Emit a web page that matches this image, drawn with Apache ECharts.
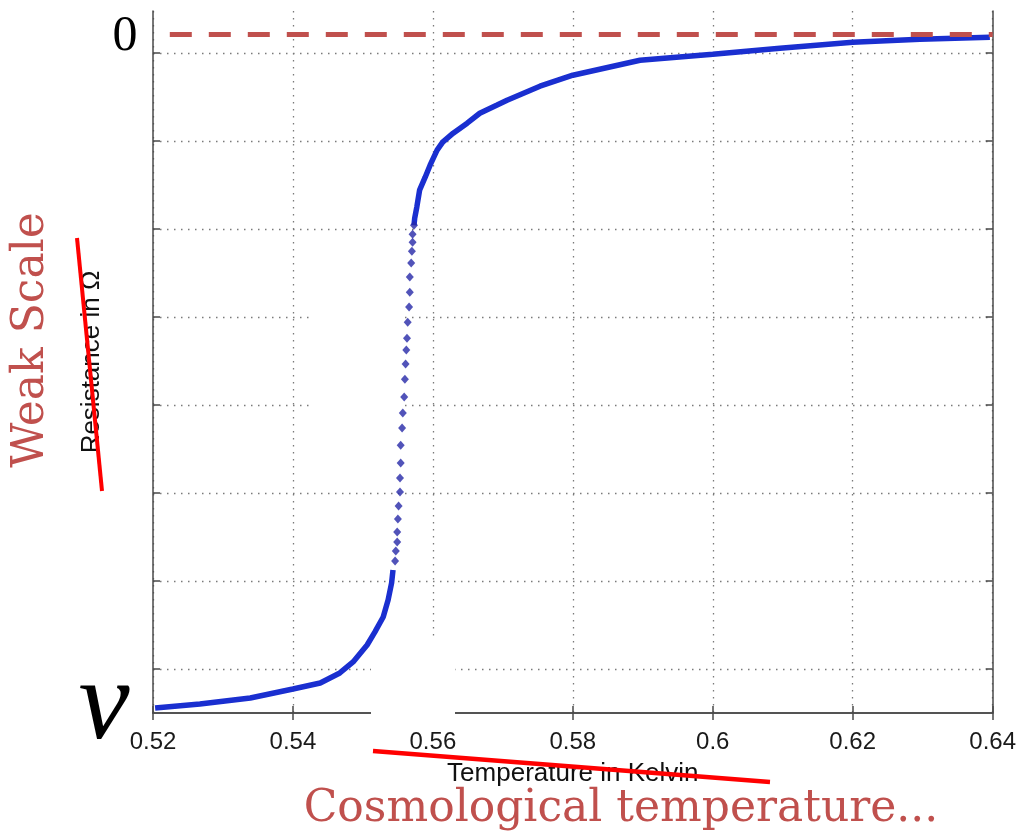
<!DOCTYPE html>
<html>
<head>
<meta charset="utf-8">
<script src="https://cdn.jsdelivr.net/npm/echarts@6/dist/echarts.min.js"></script>
<style>
html, body { margin: 0; padding: 0; background: #fff; }
#chart { width: 1019px; height: 835px; }
</style>
</head>
<body>
<div id="chart"></div>
<script>
// temperature (K) / resistance (grid units)
var lowBranch = [
	[0.5203, 0.057], [0.5267, 0.102], [0.5339, 0.170], [0.5400, 0.273],
	[0.5439, 0.341], [0.5467, 0.455], [0.5486, 0.580], [0.5506, 0.773],
	[0.5517, 0.920], [0.5529, 1.091], [0.5536, 1.284], [0.5541, 1.477],
	[0.5543, 1.625]
];
var transition = [
	[0.5546, 1.727], [0.5547, 1.841], [0.5549, 1.943], [0.5549, 2.057],
	[0.5550, 2.205], [0.5551, 2.352], [0.5553, 2.511], [0.5553, 2.670],
	[0.5554, 2.841], [0.5554, 3.045], [0.5556, 3.239], [0.5557, 3.409],
	[0.5559, 3.591], [0.5560, 3.795], [0.5561, 3.966], [0.5562, 4.125],
	[0.5563, 4.261], [0.5564, 4.443], [0.5566, 4.614], [0.5567, 4.784],
	[0.5567, 4.955], [0.5569, 5.114], [0.5570, 5.250], [0.5571, 5.352],
	[0.5571, 5.443], [0.5573, 5.545]
];
var highBranch = [
	[0.5573, 5.545], [0.5574, 5.625], [0.5577, 5.750], [0.5581, 5.943],
	[0.5589, 6.091], [0.5596, 6.227], [0.5606, 6.398], [0.5614, 6.489],
	[0.5629, 6.591], [0.5649, 6.705], [0.5667, 6.818], [0.5691, 6.909],
	[0.5706, 6.966], [0.5753, 7.125], [0.5800, 7.250], [0.5896, 7.420],
	[0.6000, 7.489], [0.6096, 7.557], [0.6200, 7.625], [0.6296, 7.659],
	[0.6396, 7.682]
];
var gridLevels = [0.5, 1.5, 2.5, 3.5, 4.5, 5.5, 6.5, 7.5];
var zeroLevel = 7.716;
var dashFrom = 0.5224;
var dashTo = 0.64;

var blue = '#1a2fd0';
var navy = '#2528a8';
var brick = '#c0504d';
var dotted = { color: '#7a7a7a', width: 1.3, type: [1.5, 5.5] };
var frame = { color: '#4a4a4a', width: 1.5 };

var chart = echarts.init(document.getElementById('chart'));
chart.setOption({
	animation: false,
	backgroundColor: '#fff',
	grid: { left: 153, right: 26, top: 11, bottom: 122 },
	xAxis: [{
		type: 'value',
		min: 0.52,
		max: 0.64,
		interval: 0.02,
		axisLine: { lineStyle: frame },
		axisTick: { inside: true, length: 7, lineStyle: frame },
		axisLabel: { margin: 17, fontSize: 24, color: '#1a1a1a', fontFamily: 'Liberation Sans' },
		splitLine: { show: true, lineStyle: dotted },
		name: 'Temperature in Kelvin',
		nameLocation: 'middle',
		nameGap: 48,
		nameTextStyle: { fontSize: 26, color: '#111', fontFamily: 'Liberation Sans' }
	}, {
		type: 'value',
		position: 'top',
		min: 0.52,
		max: 0.64,
		interval: 0.02,
		axisLine: { lineStyle: frame },
		axisTick: { inside: true, length: 7, lineStyle: frame },
		axisLabel: { show: false },
		splitLine: { show: false }
	}],
	yAxis: [{
		type: 'value',
		min: 0,
		max: 7.98,
		axisLine: { show: true, lineStyle: frame },
		axisTick: { show: true, inside: true, length: 7, lineStyle: frame, customValues: gridLevels },
		axisLabel: { show: false, customValues: gridLevels },
		splitLine: { show: true, lineStyle: dotted },
		name: 'Resistance in \u03A9',
		nameLocation: 'middle',
		nameRotate: 90,
		nameGap: 48,
		nameTextStyle: { fontSize: 26, color: '#111', fontFamily: 'Liberation Sans' }
	}, {
		type: 'value',
		position: 'right',
		min: 0,
		max: 7.98,
		axisLine: { show: true, lineStyle: frame },
		axisTick: { show: true, inside: true, length: 7, lineStyle: frame, customValues: gridLevels },
		axisLabel: { show: false, customValues: gridLevels },
		splitLine: { show: false }
	}],
	series: [{
		name: 'low',
		type: 'line',
		data: lowBranch,
		symbol: 'none',
		lineStyle: { color: blue, width: 5.5 },
		z: 3
	}, {
		name: 'transition',
		type: 'scatter',
		data: transition,
		symbol: 'diamond',
		symbolSize: [8, 9],
		itemStyle: { color: navy },
		z: 3
	}, {
		name: 'high',
		type: 'line',
		data: highBranch,
		symbol: 'none',
		lineStyle: { color: blue, width: 5.5 },
		z: 3,
		markLine: {
			silent: true,
			symbol: 'none',
			label: { show: false },
			lineStyle: { color: brick, width: 5, type: [22, 17] },
			data: [[{ coord: [dashFrom, zeroLevel] }, { coord: [dashTo, zeroLevel] }]]
		}
	}],
	graphic: [
		// white patches left over in the source image
		{ type: 'rect', z: 1, shape: { x: 313, y: 300, width: 88, height: 120 }, style: { fill: '#fff' } },
		{ type: 'rect', z: 1, shape: { x: 371, y: 640, width: 84, height: 82 }, style: { fill: '#fff' } },
		// annotations
		{ type: 'text', z: 10, x: 125, y: 37, style: { text: '0', font: '50px "Liberation Serif"', fill: '#000', align: 'center', verticalAlign: 'middle' } },
		{ type: 'text', z: 10, x: 104, y: 708, style: { text: 'v', font: 'italic 115px "Liberation Serif"', fill: '#000', align: 'center', verticalAlign: 'middle' } },
		{ type: 'text', z: 10, x: 32, y: 340, rotation: Math.PI / 2, style: { text: 'Weak Scale', font: '44px "DejaVu Serif"', fill: brick, align: 'center', verticalAlign: 'middle' } },
		{ type: 'text', z: 10, x: 621, y: 810, style: { text: 'Cosmological temperature...', font: '44px "DejaVu Serif"', fill: brick, align: 'center', verticalAlign: 'middle' } },
		// red strike-throughs
		{ type: 'line', z: 11, shape: { x1: 77, y1: 238, x2: 102, y2: 491 }, style: { stroke: '#ff0000', lineWidth: 4 } },
		{ type: 'line', z: 11, shape: { x1: 373, y1: 751, x2: 770, y2: 782 }, style: { stroke: '#ff0000', lineWidth: 4.5 } }
	]
});
</script>
</body>
</html>
